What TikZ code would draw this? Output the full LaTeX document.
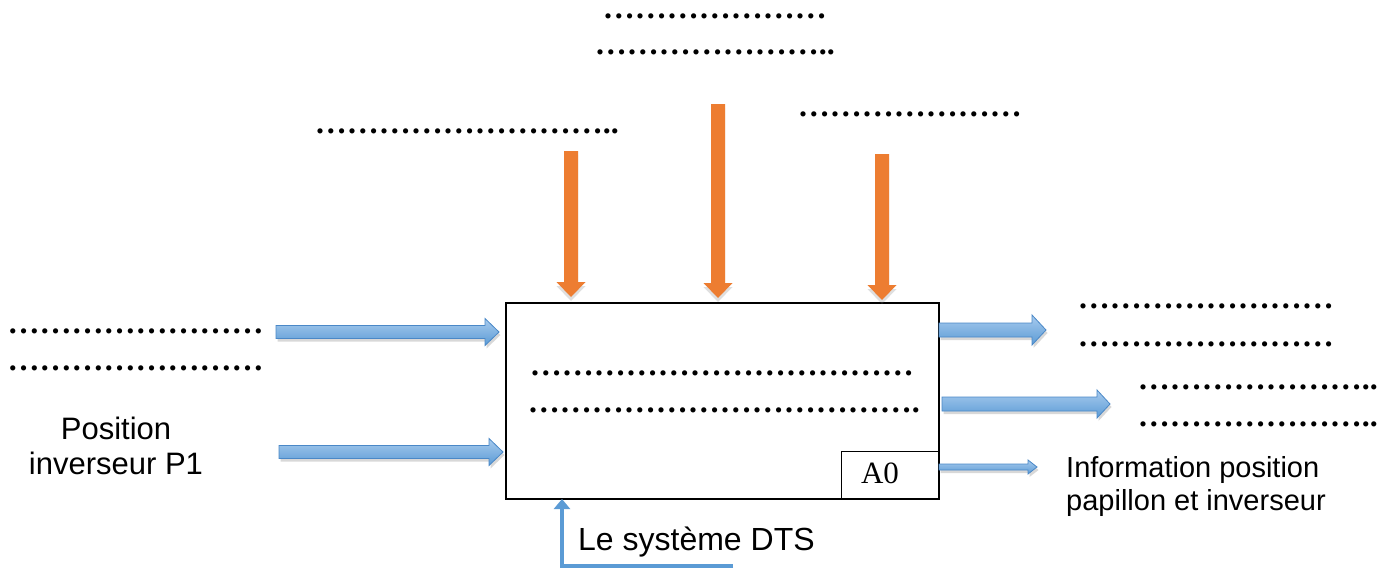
\documentclass[tikz,border=0pt]{standalone}
\usepackage{fontspec}
\setmainfont{Liberation Sans}
\newfontfamily\dotfont{Liberation Serif}
\usetikzlibrary{calc,shadows,arrows.meta}
\definecolor{orangeA}{HTML}{ED7D31}
\definecolor{blueA}{HTML}{5B9BD5}
\definecolor{blueL}{HTML}{A8CBEE}
\definecolor{blueD}{HTML}{4A88C7}
\newcommand{\myharrow}[5]{%
 \path[blockblue] let \p1=(#1), \p2=(#2) in
  (\x1,\y1+#3) -- (\x2-#5,\y1+#3) -- (\x2-#5,\y1+#4) -- (\x2,\y1)
  -- (\x2-#5,\y1-#4) -- (\x2-#5,\y1-#3) -- (\x1,\y1-#3) -- cycle;}
\newcommand{\myvarrow}[5]{%
 \path[blockorange] let \p1=(#1), \p2=(#2) in
  (\x1-#3,\y1) -- (\x1-#3,\y2+#5) -- (\x1-#4,\y2+#5) -- (\x1,\y2)
  -- (\x1+#4,\y2+#5) -- (\x1+#3,\y2+#5) -- (\x1+#3,\y1) -- cycle;}
\newcommand{\myell}{…}
\begin{document}
\begin{tikzpicture}[x=1pt,y=-1pt,
  blockblue/.style={top color=blueL, bottom color=blueA, draw=blueD, line width=0.8pt,
    drop shadow={opacity=0.3, shadow xshift=1.5pt, shadow yshift=-3pt}},
  blockorange/.style={fill=orangeA, draw=none,
    drop shadow={opacity=0.25, shadow xshift=0pt, shadow yshift=-4pt}},
  dots/.style={anchor=base west, inner sep=0pt, text height=5pt, text depth=0pt,
    font=\dotfont\bfseries\fontsize{32}{36}\selectfont},
  lab/.style={inner sep=0pt, font=\fontsize{31}{35}\selectfont},
  labs/.style={inner sep=0pt, font=\fontsize{29}{33}\selectfont},
  mech/.style={draw=blueA, line width=4pt, -{Triangle[width=16pt,length=10pt]}}]
\useasboundingbox (0,0) rectangle (1382,568);
\fill[white] (0,0) rectangle (1382,568);

% main box
\node[draw, line width=2pt, minimum width=433pt, minimum height=196pt, inner sep=0pt] (box) at (722.5,401) {};
\node[draw, line width=1.5pt, minimum width=98pt, minimum height=48pt, inner sep=0pt, anchor=south east] (a0box) at (box.south east) {};
\node[anchor=base, inner sep=0pt, font=\dotfont\fontsize{31}{34}\selectfont] (a0) at (880,483) {A0};

% coordinates
\coordinate (l1s) at (276,332);  \coordinate (l1t) at (499,332);
\coordinate (l2s) at (279,452);  \coordinate (l2t) at (503,452);
\coordinate (r1s) at (939,330);  \coordinate (r1t) at (1046,330);
\coordinate (r2s) at (942,404);  \coordinate (r2t) at (1110,404);
\coordinate (r3s) at (939,467);  \coordinate (r3t) at (1037,467);
\coordinate (o1s) at (571,151);  \coordinate (o1t) at (571,297);
\coordinate (o2s) at (718,104);  \coordinate (o2t) at (718,298);
\coordinate (o3s) at (882,154);  \coordinate (o3t) at (882,300);
\coordinate (mechs) at (733,566);
\coordinate (mecht) at (562,499);

% arrows
\myharrow{l1s}{l1t}{6.5}{13.5}{14}
\myharrow{l2s}{l2t}{6.5}{13.5}{14}
\myharrow{r1s}{r1t}{7}{15}{14}
\myharrow{r2s}{r2t}{7}{14}{13}
\myharrow{r3s}{r3t}{3}{7}{9}
\myvarrow{o1s}{o1t}{7}{14.5}{15}
\myvarrow{o2s}{o2t}{7}{14.5}{15}
\myvarrow{o3s}{o3t}{7}{14.5}{15}
\draw[mech] (mechs) -| (mecht);

% dotted texts
\node[dots] (t1) at (602.7,18.5) {\myell\myell\myell\myell\myell\myell\myell};
\node[dots] (t2) at (594.7,54.5) {\myell\myell\myell\myell\myell\myell\myell..};
\node[dots] (tl) at (314.7,133.5) {\myell\myell\myell\myell\myell\myell\myell\myell\myell..};
\node[dots] (tr) at (797.7,116.5) {\myell\myell\myell\myell\myell\myell\myell};
\node[dots] (la) at (7.4,333.5) {\myell\myell\myell\myell\myell\myell\myell\myell};
\node[dots] (lb) at (7.4,370.5) {\myell\myell\myell\myell\myell\myell\myell\myell};
\node[dots] (ia) at (529.7,375.5) {\myell\myell\myell\myell\myell\myell\myell\myell\myell\myell\myell\myell};
\node[dots] (ib) at (527.7,412.5) {\myell\myell\myell\myell\myell\myell\myell\myell\myell\myell\myell\myell.};
\node[dots] (ra) at (1077.7,308.5) {\myell\myell\myell\myell\myell\myell\myell\myell};
\node[dots] (rb) at (1077.7,346.5) {\myell\myell\myell\myell\myell\myell\myell\myell};
\node[dots] (rc) at (1137.7,389.5) {\myell\myell\myell\myell\myell\myell\myell..};
\node[dots] (rd) at (1137.7,426.5) {\myell\myell\myell\myell\myell\myell\myell..};

% labels
\node[lab, anchor=base] (pos1) at (116,439) {Position};
\node[lab, anchor=base] (pos2) at (116,474) {inverseur P1};
\node[labs, anchor=base west] (inf1) at (1066,477) {Information position};
\node[labs, anchor=base west] (inf2) at (1066,510) {papillon et inverseur};
\node[inner sep=0pt, anchor=base west, font=\fontsize{32}{36}\selectfont] (dts) at (578,550) {Le système DTS};
\end{tikzpicture}
\end{document}
